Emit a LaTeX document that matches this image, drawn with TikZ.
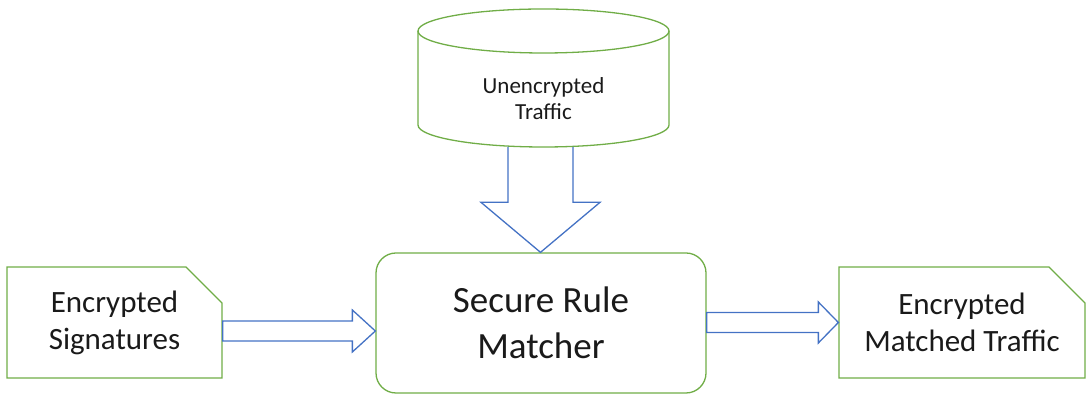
\documentclass[tikz,border=0pt]{standalone}
\usepackage{fontspec}
\setmainfont{Carlito}
\usetikzlibrary{calc,shapes.misc}
\definecolor{boxgreen}{HTML}{70AD47}
\definecolor{arrowblue}{HTML}{4472C4}
\definecolor{ink}{HTML}{1A1A1A}
\tikzset{
  doc/.style={chamfered rectangle, chamfered rectangle corners=north east,
    chamfered rectangle xsep=18pt, chamfered rectangle ysep=18pt,
    draw=boxgreen, line width=1.3pt, inner sep=0pt, align=center, text=ink,
    font=\fontsize{31}{37}\selectfont},
  proc/.style={rectangle, rounded corners=20pt, draw=boxgreen, line width=1.3pt,
    inner sep=0pt, align=center, text=ink, font=\fontsize{37}{46}\selectfont},
  store/.style={draw=boxgreen, line width=1.3pt},
  storetext/.style={align=center, text=ink, inner sep=0pt,
    font=\fontsize{23}{26}\selectfont},
  blockarr/.style={draw=arrowblue, line width=1.3pt, line join=miter}
}
\begin{document}
\begin{tikzpicture}[x=1pt,y=1pt]
\useasboundingbox (0,0) rectangle (1087,395);

% boxes
\node[doc, minimum width=215pt, minimum height=111pt] (sig) at (114.5,72.5)
  {Encrypted\\Signatures};
\node[proc, minimum width=330pt, minimum height=140pt] (match) at (541,72)
  {Secure Rule\\Matcher};
\node[doc, minimum width=246pt, minimum height=111pt] (out) at (962,72.5)
  {Encrypted\\Matched Traffic};

% database cylinder
\coordinate (ctop) at (543.5,364);
\coordinate (cbot) at (543.5,270);
\draw[store] (ctop) ellipse [x radius=125.5, y radius=22];
\draw[store] ($(ctop)+(-125.5,0)$) -- ($(cbot)+(-125.5,0)$)
  arc[start angle=180, end angle=360, x radius=125.5, y radius=22]
  -- ($(ctop)+(125.5,0)$);
\node[storetext] (db) at (543.5,296) {Unencrypted\\Traffic};
\coordinate (dbb) at (540.5,248);

% block arrow: signatures -> matcher
\coordinate (a1s) at (sig.east |- 0,64);
\coordinate (a1t) at (match.west |- 0,64);
\draw[blockarr] ($(a1s)+(0,10)$) -- ($(a1t)+(-23,10)$) -- ($(a1t)+(-23,21)$)
  -- (a1t) -- ($(a1t)+(-23,-21)$) -- ($(a1t)+(-23,-10)$) -- ($(a1s)+(0,-10)$) -- cycle;

% block arrow: matcher -> matched traffic
\coordinate (a2s) at (match.east |- 0,72.5);
\coordinate (a2t) at (out.west |- 0,72.5);
\draw[blockarr] ($(a2s)+(0,10)$) -- ($(a2t)+(-20,10)$) -- ($(a2t)+(-20,20.5)$)
  -- (a2t) -- ($(a2t)+(-20,-20.5)$) -- ($(a2t)+(-20,-10)$) -- ($(a2s)+(0,-10)$) -- cycle;

% block arrow: unencrypted traffic -> matcher
\coordinate (a3t) at (match.north -| dbb);
\draw[blockarr] ($(dbb)+(-32.5,0)$) -- ($(a3t)+(-32.5,50)$) -- ($(a3t)+(-59.5,50)$)
  -- (a3t) -- ($(a3t)+(59.5,50)$) -- ($(a3t)+(32.5,50)$) -- ($(dbb)+(32.5,0)$);
\end{tikzpicture}
\end{document}
